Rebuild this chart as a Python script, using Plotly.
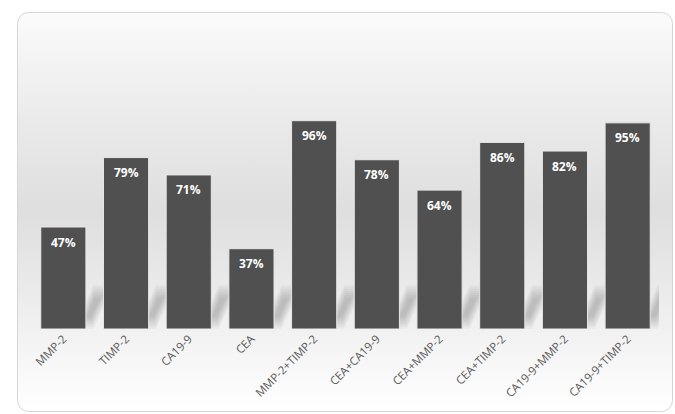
import base64
import plotly.graph_objects as go

categories = ["MMP-2", "TIMP-2", "CA19-9", "CEA", "MMP-2+TIMP-2", "CEA+CA19-9",
              "CEA+MMP-2", "CEA+TIMP-2", "CA19-9+MMP-2", "CA19-9+TIMP-2"]
values = [47, 79, 71, 37, 96, 78, 64, 86, 82, 95]
labels = [f"{v}%" for v in values]

W, H = 675, 414
ML, MR, MT, MB = 32, 16, 112, 85
PW, PH = W - ML - MR, H - MT - MB

svg = (
    "<svg xmlns='http://www.w3.org/2000/svg' width='675' height='414' viewBox='0 0 675 414'>"
    "<defs><linearGradient id='g' x1='0' y1='0' x2='0' y2='1'>"
    "<stop offset='0' stop-color='#fbfbfb'/>"
    "<stop offset='0.25' stop-color='#ebebeb'/>"
    "<stop offset='0.5' stop-color='#dedede'/>"
    "<stop offset='0.72' stop-color='#ececec'/>"
    "<stop offset='1' stop-color='#ffffff'/>"
    "</linearGradient></defs>"
    "<rect x='17.5' y='12.5' width='655' height='399' rx='11' ry='11' fill='url(#g)' stroke='#d6d6d6' stroke-width='1'/>"
    "</svg>"
)
src = "data:image/svg+xml;base64," + base64.b64encode(svg.encode()).decode()

fig = go.Figure()
fig.add_trace(go.Bar(
    x=categories, y=values, width=0.72,
    marker=dict(color="#505050", line=dict(color="#e8e8e8", width=1)),
    hoverinfo="skip",
))

for c, v, t in zip(categories, values, labels):
    fig.add_annotation(x=c, y=v, text=f"<b>{t}</b>", showarrow=False,
                       yshift=-15, font=dict(family="Open Sans", size=12, color="white"))

# soft cast shadows at the foot of each bar (layered to imitate blur)
def pt(t, x0=20.0, y0=0.0, x1=40.0, y1=44.0):
    return x0 + (x1 - x0) * t, y0 + (y1 - y0) * t

layers = []
for k in range(8):
    w = 10 - k * 1.1
    t0 = 0.0 + k * 0.04
    t1 = 1.0 - k * 0.045
    layers.append((w, t0, t1, 0.035))
shapes = []
for c in categories:
    for w, t0, t1, op in layers:
        ax, ay = pt(t0)
        bx, by = pt(t1)
        path = (f"M {ax - w:.1f},{ay:.1f} L {ax + w:.1f},{ay:.1f} "
                f"L {bx + w:.1f},{by:.1f} L {bx - w:.1f},{by:.1f} Z")
        shapes.append(dict(
            type="path", xref="x", yref="y", xsizemode="pixel", ysizemode="pixel",
            xanchor=c, yanchor=0, path=path,
            fillcolor=f"rgba(60,60,60,{op})", line=dict(width=0), layer="below",
        ))

fig.update_layout(
    width=W, height=H,
    margin=dict(l=ML, r=MR, t=MT, b=MB, pad=0),
    paper_bgcolor="white", plot_bgcolor="rgba(0,0,0,0)",
    showlegend=False,
    images=[dict(source=src, xref="paper", yref="paper",
                 x=-ML / PW, y=1 + MT / PH, sizex=W / PW, sizey=H / PH,
                 xanchor="left", yanchor="top", sizing="stretch", layer="below")],
    shapes=shapes,
    xaxis=dict(tickangle=-45, showgrid=False, showline=False, ticks="",
               range=[-0.5, len(categories) - 0.5], autorange=False,
               tickfont=dict(family="Open Sans", size=11.5, color="#595959")),
    yaxis=dict(range=[0, 100], autorange=False, visible=False, showgrid=False),
)

fig.write_html("out.html", config={"displayModeBar": False},
               post_script="document.body.style.margin='0';")
